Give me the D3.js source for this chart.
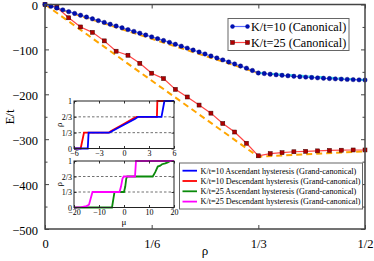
<!DOCTYPE html>
<html>
<head>
<meta charset="utf-8">
<script src="https://cdn.jsdelivr.net/npm/d3@7"></script>
<style>
body { margin: 0; background: #fff; }
svg { display: block; }
text { font-family: "Liberation Serif", "Times New Roman", serif; }
</style>
</head>
<body>
<svg id="chart" width="374" height="261"></svg>
<script>
// the data
const nSites = 108; // rho = particles / sites
// K/t=10 canonical, one point per particle (0..54)
const energyK10 = [0, -3.9, -7.9, -11.9, -15.9, -19.9, -23.9, -27.9, -31.9, -35.9,
  -39.9, -43.9, -47.9, -51.9, -55.9, -59.9, -63.9, -67.9, -72.0, -76.1,
  -80.2, -84.3, -88.5, -92.8, -97.1, -101.5, -105.8, -110.2, -114.6, -119.0,
  -123.4, -127.9, -132.4, -137.0, -141.8, -146.9, -152.5, -153.8, -155.2, -156.5,
  -157.7, -158.8, -159.8, -160.8, -161.7, -162.6, -163.4, -164.2, -164.9, -165.6,
  -166.2, -166.8, -167.3, -167.8, -168.2];
// K/t=25 canonical, every second particle number (0,2,..,54)
const energyK25 = [0, -6, -29.6, -50, -62, -81, -104, -113, -131, -153,
  -165, -189, -206, -224, -242, -265, -284, -309, -337, -332,
  -330, -328, -327, -326, -325, -324.5, -324, -324];
// dashed guide lines [rho, E]
const guideK10 = [[0, 0], [1 / 3, -152.5]];
const guideK10high = [[1 / 3, -152.5], [1 / 2, -168.2]];
const guideK25 = [[0, 0], [1 / 3, -339], [1 / 2, -327]];

// main axes ticks
const yTicks = [0, -100, -200, -300, -400, -500];
const yMinor = [-50, -150, -250, -350, -450];
const xTicks = [0, 1 / 6, 1 / 3, 1 / 2];
const xTickLabels = ["0", "1/6", "1/3", "1/2"];

// inset hysteresis curves [mu, rho]
const ascK10 = [[-6, 0], [-4.35, 0], [-4.25, 1 / 3], [-1.75, 1 / 3], [-1.4, 0.37], [0, 0.5], [1.3, 0.62], [1.7, 2 / 3], [4.5, 2 / 3], [4.85, 1], [6, 1]];
const descK10 = [[-6, 0], [-5.2, 0], [-4.8, 1 / 3], [-1.85, 1 / 3], [-1.55, 0.37], [-0.2, 0.5], [1.1, 0.63], [1.5, 2 / 3], [3.95, 2 / 3], [4.0, 1], [6, 1]];
const ascK25 = [[-20, 0], [-4.8, 0], [-4.2, 0.2], [-3.8, 1 / 3], [0, 1 / 3], [0.5, 0.45], [0.9, 0.62], [1.3, 2 / 3], [11.5, 2 / 3], [12.5, 0.76], [13.5, 0.88], [14.5, 0.9], [15.2, 0.93], [16.5, 0.95], [17.5, 0.97], [18.5, 1], [20, 1]];
const descK25 = [[-20, 0], [-17, 0.01], [-15, 0.03], [-14, 0.06], [-13.3, 0.2], [-12.6, 1 / 3], [-1.8, 1 / 3], [-1.2, 0.45], [-0.6, 0.62], [-0.1, 2 / 3], [4.4, 2 / 3], [4.8, 1], [20, 1]];
const insetYTicks = [0, 1 / 3, 2 / 3, 1];
const insetYLabels = ["0", "1/3", "2/3", "1"];
const inset1XTicks = [-6, -3, 0, 3, 6];
const inset2XTicks = [-20, -10, 0, 10, 20];

const legendMain = ["K/t=10 (Canonical)", "K/t=25 (Canonical)"];
const legendInset = ["K/t=10 Ascendant hysteresis (Grand-canonical)",
  "K/t=10 Descendant hysteresis (Grand-canonical)",
  "K/t=25 Ascendant hysteresis (Grand-canonical)",
  "K/t=25 Descendant hysteresis (Grand-canonical)"];

// The svg
const svg = d3.select("#chart");
const frameColor = "#444";

const x = d3.scaleLinear().domain([0, 0.5]).range([45, 365]);
const y = d3.scaleLinear().domain([-500, 0]).range([229, 4.5]);

const line = d3.line().x(d => x(d[0])).y(d => y(d[1]));

// ticks
const gAxes = svg.append("g");
function styleAxis(g) {
  g.select(".domain").remove();
  g.selectAll(".tick line").attr("stroke", frameColor);
  g.selectAll("text").attr("font-family", "Liberation Serif").attr("fill", "#000");
}
gAxes.append("g").attr("transform", "translate(45,0)")
  .call(d3.axisLeft(y).tickValues(yTicks).tickSizeInner(-4).tickSizeOuter(0).tickPadding(7))
  .call(styleAxis).selectAll("text").attr("font-size", 12.5).attr("dy", "0.4em");
gAxes.append("g").attr("transform", "translate(45,0)")
  .call(d3.axisLeft(y).tickValues(yMinor).tickSizeInner(-2.5).tickSizeOuter(0).tickFormat(""))
  .call(styleAxis);
gAxes.append("g").attr("transform", "translate(365,0)")
  .call(d3.axisRight(y).tickValues(yTicks).tickSizeInner(-4).tickSizeOuter(0).tickFormat(""))
  .call(styleAxis);
gAxes.append("g").attr("transform", "translate(365,0)")
  .call(d3.axisRight(y).tickValues(yMinor).tickSizeInner(-2.5).tickSizeOuter(0).tickFormat(""))
  .call(styleAxis);
gAxes.append("g").attr("transform", "translate(0,229)")
  .call(d3.axisBottom(x).tickValues(xTicks).tickSizeInner(-4).tickSizeOuter(0).tickPadding(10)
    .tickFormat((d, i) => xTickLabels[i]))
  .call(styleAxis).selectAll("text").attr("font-size", 12.5);
gAxes.append("g").attr("transform", "translate(0,4.5)")
  .call(d3.axisTop(x).tickValues(xTicks).tickSizeInner(-4).tickSizeOuter(0).tickFormat(""))
  .call(styleAxis);

svg.append("text").attr("x", 205).attr("y", 255).attr("text-anchor", "middle")
  .attr("font-size", 13).text("ρ");
svg.append("text").attr("transform", "translate(14,117) rotate(-90)").attr("text-anchor", "middle")
  .attr("font-size", 13).text("E/t");

// dashed guides
svg.append("path").datum(guideK10).attr("d", line).attr("fill", "none")
  .attr("stroke", "#ffa500").attr("stroke-width", 2).attr("stroke-dasharray", "6,4");
svg.append("path").datum(guideK25).attr("d", line).attr("fill", "none")
  .attr("stroke", "#ffa500").attr("stroke-width", 2).attr("stroke-dasharray", "6,4");

// canonical K/t=25
const ptsK25 = energyK25.map((e, i) => [2 * i / nSites, e]);
svg.append("path").datum(ptsK25).attr("d", line).attr("fill", "none")
  .attr("stroke", "#ff4444").attr("stroke-width", 1.2);
svg.append("g").selectAll("rect").data(ptsK25).enter().append("rect")
  .attr("x", d => x(d[0]) - 2).attr("y", d => y(d[1]) - 2)
  .attr("width", 4).attr("height", 4)
  .attr("fill", "#b00000").attr("stroke", "#400000").attr("stroke-width", 0.5);

// canonical K/t=10
const ptsK10 = energyK10.map((e, i) => [i / nSites, e]);
svg.append("path").datum(ptsK10).attr("d", line).attr("fill", "none")
  .attr("stroke", "#5a6cff").attr("stroke-width", 1.2);
svg.append("path").datum(guideK10high).attr("d", line).attr("fill", "none")
  .attr("stroke", "#40e0f0").attr("stroke-width", 2).attr("stroke-dasharray", "6,4");
svg.append("g").selectAll("circle").data(ptsK10).enter().append("circle")
  .attr("cx", d => x(d[0])).attr("cy", d => y(d[1])).attr("r", 2.2)
  .attr("fill", "#0010b0").attr("stroke", "#000070").attr("stroke-width", 0.4);

// frame
svg.append("rect").attr("x", 45).attr("y", 4.5).attr("width", 320).attr("height", 224.5)
  .attr("fill", "none").attr("stroke", frameColor).attr("stroke-width", 1.5);

// legend 1
const leg1 = svg.append("g");
leg1.append("rect").attr("x", 228).attr("y", 18.5).attr("width", 121).attr("height", 32)
  .attr("fill", "#fff").attr("stroke", "#666").attr("stroke-width", 1);
legendMain.forEach((t, i) => {
  const ly = 26.5 + i * 16;
  leg1.append("line").attr("x1", 232).attr("x2", 248).attr("y1", ly).attr("y2", ly)
    .attr("stroke", i === 0 ? "#5a6cff" : "#ff4444").attr("stroke-width", 1.2);
  [232.5, 247.5].forEach(mx => {
    if (i === 0) {
      leg1.append("circle").attr("cx", mx).attr("cy", ly).attr("r", 2.2).attr("fill", "#0010b0");
    } else {
      leg1.append("rect").attr("x", mx - 2).attr("y", ly - 2).attr("width", 4).attr("height", 4)
        .attr("fill", "#b00000").attr("stroke", "#400000").attr("stroke-width", 0.5);
    }
  });
  leg1.append("text").attr("x", 251).attr("y", ly + 4).attr("font-size", 12.2).text(t);
});

// insets
function drawInset(top, bottom, xDomain, xTickVals, curves, colors, showMu) {
  const ix = d3.scaleLinear().domain(xDomain).range([74, 174]);
  const iy = d3.scaleLinear().domain([0, 1]).range([bottom, top]);
  const g = svg.append("g");
  g.append("rect").attr("x", 74).attr("y", top).attr("width", 100).attr("height", bottom - top)
    .attr("fill", "#fff");
  [1 / 3, 2 / 3].forEach(v => {
    g.append("line").attr("x1", 74).attr("x2", 174).attr("y1", iy(v)).attr("y2", iy(v))
      .attr("stroke", "#333").attr("stroke-width", 0.7).attr("stroke-dasharray", "2.5,2");
  });
  const il = d3.line().x(d => ix(d[0])).y(d => iy(d[1]));
  curves.forEach((c, i) => {
    g.append("path").datum(c).attr("d", il).attr("fill", "none")
      .attr("stroke", colors[i]).attr("stroke-width", 1.8);
  });
  const axStyle = a => {
    a.select(".domain").remove();
    a.selectAll(".tick line").attr("stroke", "#333");
    a.selectAll("text").attr("font-size", 8).attr("font-family", "Liberation Serif").attr("fill", "#000");
  };
  g.append("g").attr("transform", `translate(0,${bottom})`)
    .call(d3.axisBottom(ix).tickValues(xTickVals).tickSizeInner(-2.5).tickSizeOuter(0).tickPadding(2))
    .call(axStyle);
  g.append("g").attr("transform", `translate(0,${top})`)
    .call(d3.axisTop(ix).tickValues(xTickVals).tickSizeInner(-2.5).tickSizeOuter(0).tickFormat(""))
    .call(axStyle);
  g.append("g").attr("transform", "translate(74,0)")
    .call(d3.axisLeft(iy).tickValues(insetYTicks).tickSizeInner(-2.5).tickSizeOuter(0).tickPadding(2)
      .tickFormat((d, i) => insetYLabels[i]))
    .call(axStyle);
  g.append("g").attr("transform", "translate(174,0)")
    .call(d3.axisRight(iy).tickValues(insetYTicks).tickSizeInner(-2.5).tickSizeOuter(0).tickFormat(""))
    .call(axStyle);
  g.append("rect").attr("x", 74).attr("y", top).attr("width", 100).attr("height", bottom - top)
    .attr("fill", "none").attr("stroke", "#222").attr("stroke-width", 1);
  g.append("text").attr("transform", `translate(62,${(top + bottom) / 2}) rotate(-90)`)
    .attr("text-anchor", "middle").attr("font-size", 9).text("ρ");
  if (showMu) {
    g.append("text").attr("x", 124).attr("y", bottom + 17).attr("text-anchor", "middle")
      .attr("font-size", 9).text("μ");
  }
}
drawInset(101, 148.5, [-6, 6], inset1XTicks, [descK10, ascK10], ["#ff0000", "#0000ff"], false);
drawInset(161, 207.5, [-20, 20], inset2XTicks, [ascK25, descK25], ["#0a8a0a", "#ff00ff"], true);

// legend 2
const leg2 = svg.append("g");
const colorsInset = ["#0000ff", "#ff0000", "#0a8a0a", "#ff00ff"];
leg2.append("rect").attr("x", 179.5).attr("y", 163).attr("width", 183).attr("height", 46)
  .attr("fill", "#fff").attr("stroke", "#666").attr("stroke-width", 1);
legendInset.forEach((t, i) => {
  const ly = 170.7 + i * 10.3;
  leg2.append("line").attr("x1", 182.5).attr("x2", 197).attr("y1", ly).attr("y2", ly)
    .attr("stroke", colorsInset[i]).attr("stroke-width", 1.8);
  leg2.append("text").attr("x", 200.5).attr("y", ly + 2.8).attr("font-size", 8.2).text(t);
});
</script>
</body>
</html>
